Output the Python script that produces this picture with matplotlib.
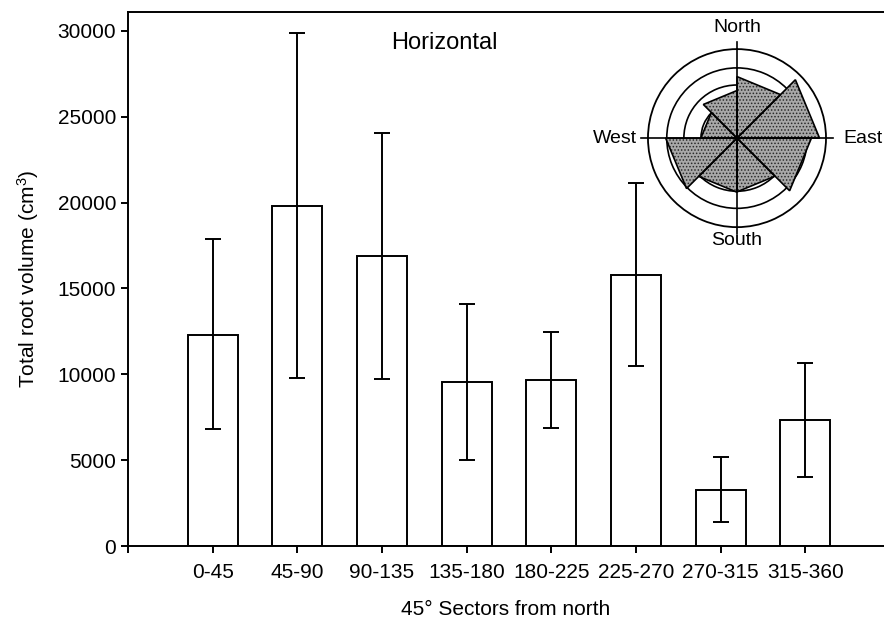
import numpy as np
import matplotlib
matplotlib.use('Agg')
import matplotlib.pyplot as plt

plt.rcParams['font.family'] = ['Liberation Sans', 'DejaVu Sans']
plt.rcParams['mathtext.fontset'] = 'custom'
plt.rcParams['mathtext.rm'] = 'Liberation Sans'
plt.rcParams['mathtext.default'] = 'regular'
plt.rcParams['hatch.linewidth'] = 0.7

#--data
sectors = ['0-45', '45-90', '90-135', '135-180', '180-225', '225-270', '270-315', '315-360']
volume = [12300, 19800, 16900, 9530, 9650, 15800, 3260, 7330]
upper = [17900, 29900, 24050, 14070, 12440, 21150, 5170, 10650]
lower = [6800, 9800, 9700, 5000, 6860, 10470, 1400, 4000]
sector_start = [0, 45, 90, 135, 180, 225, 270, 315]
compass = ['North', 'East', 'South', 'West']

vol = np.array(volume)
yerr = [vol - np.array(lower), np.array(upper) - vol]
xpos = np.arange(1, len(sectors) + 1)

fig = plt.figure(figsize=(8.84, 6.24), dpi=100)
ax = fig.add_axes([0.1448, 0.125, 0.8552, 0.8558])

ax.bar(xpos, vol, width=0.59, color='white', edgecolor='black', linewidth=1.4, zorder=2)
ax.errorbar(xpos, vol, yerr=yerr, fmt='none', ecolor='black', elinewidth=1.4,
            capsize=6, capthick=1.4, zorder=3)

ax.set_xlim(0, 8.93)
ax.set_ylim(0, 31100)
ax.set_xticks([0] + list(xpos))
ax.set_xticklabels([''] + sectors)
ax.set_yticks(np.arange(0, 30001, 5000))
ax.tick_params(direction='out', length=5, width=1.4, labelsize=15)
ax.tick_params(axis='x', pad=7)
ax.spines['right'].set_visible(False)
for s in ['left', 'bottom', 'top']:
    ax.spines[s].set_linewidth(1.4)
ax.set_xlabel('45° Sectors from north', fontsize=15, labelpad=13)
ax.set_ylabel('Total root volume (cm$^{3}$)', fontsize=15, labelpad=12)
ax.text(3.74, 29300, 'Horizontal', fontsize=17, ha='center', va='center')

#--inset rose diagram
rmin, rmax = -9640, 22100
pax = fig.add_axes([0.733, 0.636, 0.2014, 0.2853], projection='polar')
pax.set_theta_zero_location('N')
pax.set_theta_direction(-1)
pax.set_ylim(rmin, rmax)
pax.set_rgrids([3200, 9300, 15400], labels=[])
pax.set_thetagrids([], labels=[])
pax.grid(True, color='black', linewidth=1.2)
pax.spines['polar'].set_linewidth(1.3)
pax.patch.set_alpha(0)

for start, v in zip(sector_start, volume):
    th = np.radians([start, start, start + 45])
    rr = [rmin, v, v]
    pax.fill(th, rr, facecolor='#a8a8a8', edgecolor='none', zorder=2)
    pax.fill(th, rr, facecolor='none', edgecolor='#2a2a2a', hatch='.....', linewidth=0, zorder=2.1)
    pax.fill(th, rr, facecolor='none', edgecolor='black', linewidth=1.2, zorder=2.2)

rline = 24590
for ang in [0, 90]:
    t = np.radians(ang)
    pax.plot([t, t], [rmin, rline], color='black', linewidth=1.2, zorder=3, clip_on=False)
    pax.plot([t + np.pi, t + np.pi], [rmin, rline], color='black', linewidth=1.2, zorder=3, clip_on=False)

pax.text(0, 29940, compass[0], ha='center', va='center', fontsize=14, clip_on=False)
pax.text(np.pi / 2, 28160, compass[1], ha='left', va='center', fontsize=14, clip_on=False)
pax.text(np.pi, 26730, compass[2], ha='center', va='center', fontsize=14, clip_on=False)
pax.text(3 * np.pi / 2, 26020, compass[3], ha='right', va='center', fontsize=14, clip_on=False)

fig.savefig('out.png', dpi=100)
